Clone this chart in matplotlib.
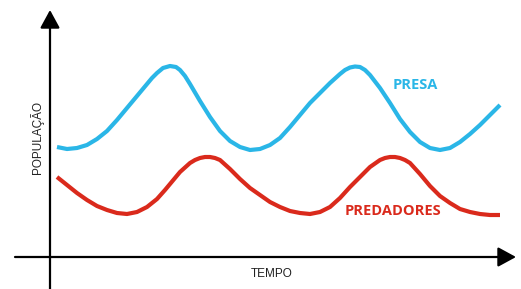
import matplotlib.pyplot as plt

# curves (x = time, y = population, pixel-like scale)
presa_x = [57, 67, 77, 87, 97, 107, 117, 127, 137, 147, 152, 157, 163, 170, 176, 180, 185,
           190, 200, 210, 220, 230, 240, 250, 260, 270, 280, 290, 300, 310, 320, 330, 340,
           345, 350, 355, 360, 365, 370, 380, 390, 400, 410, 420, 430, 440, 450, 460, 470,
           480, 490, 500]
presa_y = [147, 149, 148, 145, 139, 131, 120, 108, 96, 84, 78, 73, 68, 66, 67, 70, 76,
           84, 101, 117, 131, 141, 147, 150, 149, 145, 138, 127, 115, 103, 93, 83, 74,
           70, 67.5, 66.5, 67, 70, 75, 88, 103, 119, 132, 142, 148, 150, 148, 142, 134,
           125, 115, 105]

pred_x = [57, 67, 77, 87, 97, 107, 117, 127, 137, 147, 157, 165, 170, 180, 190, 195, 200,
          205, 210, 215, 220, 230, 240, 250, 260, 270, 280, 290, 300, 310, 320, 330, 340,
          350, 360, 370, 380, 385, 390, 395, 400, 405, 410, 420, 430, 440, 450, 460, 470,
          480, 490, 500]
pred_y = [177, 185, 193, 200, 206, 210, 213, 214, 212, 207, 199, 190, 184, 172, 163, 160,
          158, 157, 157, 158, 160, 169, 179, 188, 195, 202, 207, 211, 213, 214, 212, 207,
          198, 187, 177, 167, 160, 158, 157, 157, 158, 160, 163, 174, 186, 196, 203, 209,
          212, 214, 215, 215]

BLUE = '#2AB6E7'
RED = '#DA2A1C'

fig = plt.figure(figsize=(5.21, 2.89), dpi=100)
ax = fig.add_axes([0, 0, 1, 1])
ax.set_xlim(0, 521)
ax.set_ylim(289, 0)
ax.axis('off')

ax.plot(presa_x, presa_y, color=BLUE, lw=3.0, solid_capstyle='butt', solid_joinstyle='round')
ax.plot(pred_x, pred_y, color=RED, lw=3.0, solid_capstyle='butt', solid_joinstyle='round')

# axes with arrows
arrow = dict(arrowstyle='-|>,head_length=0.55,head_width=0.3', lw=1.6,
             color='black', mutation_scale=20, shrinkA=0, shrinkB=0)
ax.annotate('', xy=(50, 10), xytext=(50, 289), arrowprops=arrow)
ax.annotate('', xy=(516, 257), xytext=(15, 257), arrowprops=arrow)

ax.text(415, 85, 'PRESA', color=BLUE, fontsize=10.5, fontweight='bold',
        family='Open Sans', ha='center', va='center')
ax.text(392.5, 211, 'PREDADORES', color=RED, fontsize=10.5, fontweight='bold',
        family='Open Sans', ha='center', va='center')
ax.text(37, 138, 'POPULAÇÃO', color='#222222', fontsize=8.5, rotation=90,
        family='Liberation Sans', ha='center', va='center')
ax.text(272, 274, 'TEMPO', color='#222222', fontsize=8.5,
        family='Liberation Sans', ha='center', va='center')

fig.savefig('out.png', dpi=100)
